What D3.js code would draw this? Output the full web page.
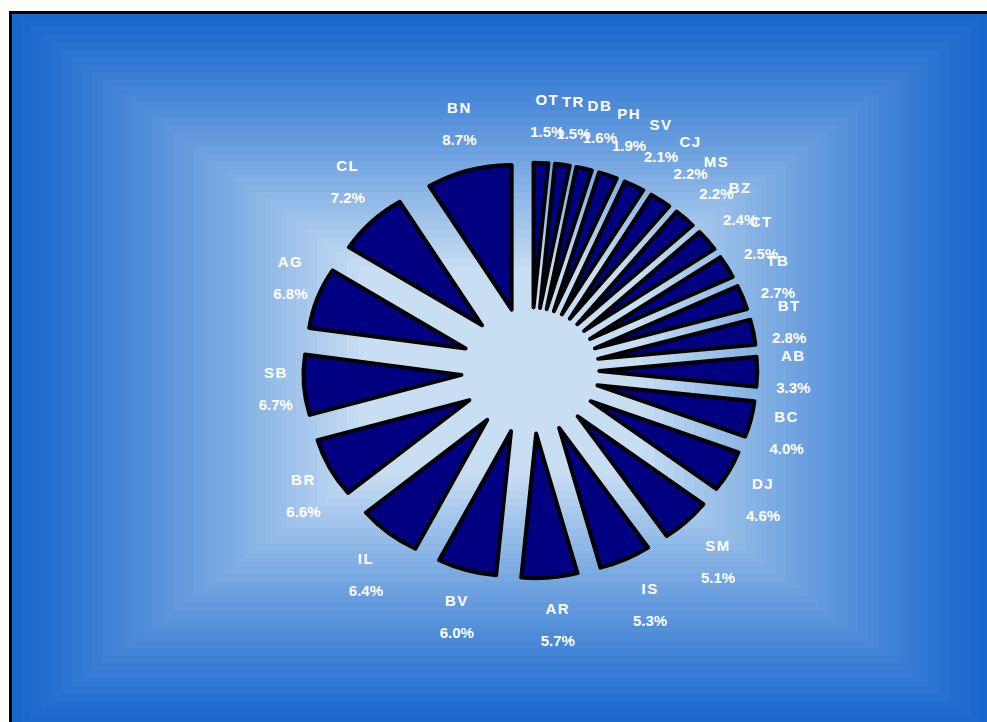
<!DOCTYPE html>
<html><head><meta charset="utf-8">
<script src="https://cdn.jsdelivr.net/npm/d3@7/dist/d3.min.js"></script>
<style>html,body{margin:0;padding:0;background:#fff;overflow:hidden}</style>
</head><body>
<svg id="chart" width="987" height="722"></svg>
<script>
// ---- data (clockwise from 12 o'clock) ----
const categories = ["OT","TR","DB","PH","SV","CJ","MS","BZ","CT","TB","BT","AB","BC","DJ","SM","IS","AR","BV","IL","BR","SB","AG","CL","BN"];
const shares = [1.5,1.5,1.6,1.9,2.1,2.2,2.2,2.4,2.5,2.7,2.8,3.3,4.0,4.6,5.1,5.3,5.7,6.0,6.4,6.6,6.7,6.8,7.2,8.7];

const svg = d3.select("#chart");

// ---- background frame with rectangular "from centre" gradient ----
const frame = {x:10.5, y:12.5, w:980, h:718};
const fcx = frame.x + frame.w/2, fcy = frame.y + frame.h/2;
const edgeCol = "#1666CC", centreCol = "#C8DEF3";
const colInterp = d3.interpolateRgb(edgeCol, centreCol);
const ease = t => Math.pow(Math.min(1, t/0.72), 1.15);
const nBands = 48;
const bands = d3.range(nBands);
svg.append("g").selectAll("rect").data(bands).join("rect")
  .attr("x", i => fcx - frame.w/2*(1 - i/nBands))
  .attr("y", i => fcy - frame.h/2*(1 - i/nBands))
  .attr("width", i => frame.w*(1 - i/nBands))
  .attr("height", i => frame.h*(1 - i/nBands))
  .attr("fill", i => colInterp(ease((i+0.5)/nBands)))
  .attr("shape-rendering","crispEdges");
svg.append("rect").attr("x",frame.x).attr("y",frame.y).attr("width",frame.w).attr("height",frame.h)
  .attr("fill","none").attr("stroke","#000").attr("stroke-width",3);

// ---- exploded pie ----
const cx = 530.3, cy = 370.5, squash = 0.916;
const R = 158, explode = 69;
const data = categories.map((c,i)=>({name:c, value:shares[i]}));
const pie = d3.pie().sort(null).value(d=>d.value).startAngle(0).endAngle(2*Math.PI);
const arcs = pie(data);
const arc = d3.arc().innerRadius(0).outerRadius(R);

const g = svg.append("g").attr("transform",`translate(${cx},${cy}) scale(1,${squash})`);
g.selectAll("path").data(arcs).join("path")
  .attr("d", arc)
  .attr("transform", d => {
    const m = (d.startAngle + d.endAngle)/2;
    return `translate(${explode*Math.sin(m)},${-explode*Math.cos(m)})`;
  })
  .attr("fill","#000080")
  .attr("stroke","#000")
  .attr("stroke-width",4)
  .attr("stroke-linejoin","round")
  .attr("vector-effect","non-scaling-stroke");

// ---- labels ----
const lcx = cx + 4, ax = 241, ay = 232, halfW = 18, halfH = 23;
const clamp = v => Math.max(-1, Math.min(1, v));
const fmt = d3.format(".1f");
const lab = svg.append("g")
  .attr("font-family","'Liberation Sans', Arial, sans-serif")
  .attr("font-weight","bold").attr("font-size","15px").attr("fill","#fff")
  .attr("text-anchor","middle");
arcs.forEach(d => {
  const m = (d.startAngle + d.endAngle)/2;
  const s = Math.sin(m), c = -Math.cos(m);
  const x = lcx + ax*s + halfW*clamp(2*s);
  const y = cy + ay*c + halfH*clamp(1.5*c);
  lab.append("text").attr("x",x).attr("y",y-16).attr("dy","0.35em")
    .attr("letter-spacing","1.5px").text(d.data.name);
  lab.append("text").attr("x",x).attr("y",y+16).attr("dy","0.35em")
    .text(fmt(d.data.value) + "%");
});
</script>
</body></html>
